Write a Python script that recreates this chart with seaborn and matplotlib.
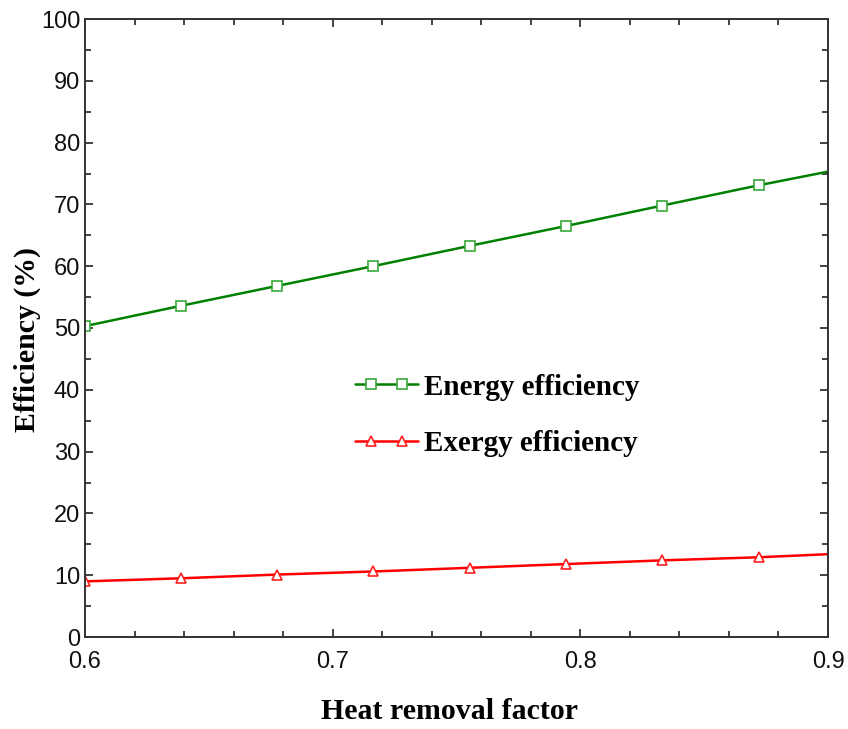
import numpy as np
import pandas as pd
import matplotlib
matplotlib.use("Agg")
import matplotlib.pyplot as plt
import seaborn as sns
from matplotlib.legend_handler import HandlerLine2D
from matplotlib.lines import Line2D
from matplotlib.ticker import MultipleLocator

# Heat removal factor (marker positions + line end)
heat_removal = [0.6, 0.6388, 0.6775, 0.7163, 0.7554, 0.7942, 0.8329, 0.8721, 0.9]
energy_eff = [50.3, 53.6, 56.8, 60.0, 63.3, 66.5, 69.8, 73.1, 75.3]
exergy_eff = [9.0, 9.5, 10.1, 10.6, 11.2, 11.8, 12.4, 12.9, 13.4]

df = pd.DataFrame({
    'Heat removal factor': heat_removal,
    'Energy efficiency': energy_eff,
    'Exergy efficiency': exergy_eff,
})


class FullLineHandler(HandlerLine2D):
    """Legend handle: two markers inside, line across the whole handle (Origin style)"""
    def create_artists(self, legend, orig_handle, xdescent, ydescent,
                       width, height, fontsize, trans):
        artists = super().create_artists(legend, orig_handle, xdescent, ydescent,
                                         width, height, fontsize, trans)
        line = artists[0]
        xm = list(line.get_xdata())
        y = line.get_ydata()[0]
        xs = [-xdescent] + xm + [width - xdescent]
        line.set_data(xs, [y] * len(xs))
        line.set_markevery(list(range(1, len(xm) + 1)))
        return artists


sns.set_style('ticks')
plt.rcParams['font.family'] = ['Liberation Sans', 'DejaVu Sans']
plt.rcParams['text.color'] = 'black'
plt.rcParams['axes.labelcolor'] = 'black'

fig = plt.figure(figsize=(8.48, 7.29), dpi=100)
ax = fig.add_axes([85 / 848, 1 - 637 / 729, 743 / 848, 618 / 729])

marks = list(range(len(heat_removal) - 1))
sns.lineplot(data=df, x='Heat removal factor', y='Energy efficiency', ax=ax,
             color='#008000', lw=1.8, marker='s', markersize=7,
             markerfacecolor='white', markeredgecolor='#3aa83a', markeredgewidth=1.2,
             markevery=marks, label='Energy efficiency')
sns.lineplot(data=df, x='Heat removal factor', y='Exergy efficiency', ax=ax,
             color='#ff0000', lw=1.8, marker='^', markersize=7,
             markerfacecolor='white', markeredgecolor='#ff2020', markeredgewidth=1.2,
             markevery=marks, label='Exergy efficiency')

ax.set_xlim(0.6, 0.9)
ax.set_ylim(0, 100)
ax.xaxis.set_major_locator(MultipleLocator(0.1))
ax.xaxis.set_minor_locator(MultipleLocator(0.02))
ax.yaxis.set_major_locator(MultipleLocator(10))
ax.yaxis.set_minor_locator(MultipleLocator(5))
ax.set_xticklabels([f'{v:.1f}' for v in ax.get_xticks()])
ax.tick_params(which='both', direction='in', top=True, right=True, labelsize=17,
               colors='#222222', labelcolor='#111111', width=1.2)
ax.tick_params(axis='x', which='major', pad=10)
ax.tick_params(which='major', length=6)
ax.tick_params(which='minor', length=4)
for sp in ax.spines.values():
    sp.set_linewidth(1.4)
    sp.set_color('#333333')

label_font = dict(family='Liberation Serif', weight='bold', size=21.5, color='black')
ax.set_xlabel('Heat removal factor', labelpad=18, **label_font)
ax.set_ylabel('Efficiency (%)', labelpad=0, **label_font)
ax.xaxis.label.set_x(0.491)
ax.yaxis.label.set_y(0.482)

leg = ax.legend(loc='center left', bbox_to_anchor=(0.364, 0.359), frameon=False,
                prop=dict(family='Liberation Serif', weight='bold', size=21),
                labelcolor='black',
                handlelength=2.15, handletextpad=0.2, labelspacing=1.0,
                borderpad=0, borderaxespad=0,
                handler_map={Line2D: FullLineHandler(numpoints=2, marker_pad=0.55)})

fig.savefig('out.png', dpi=100)
